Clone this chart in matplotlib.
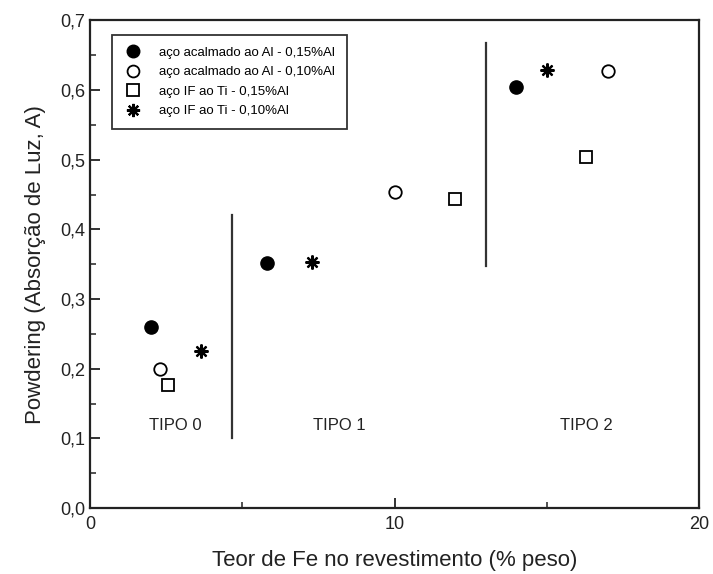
import matplotlib
matplotlib.use("Agg")
import matplotlib.pyplot as plt
from matplotlib.ticker import MultipleLocator, FuncFormatter

plt.rcParams['font.family'] = ['Liberation Sans', 'DejaVu Sans']

# Teor de Fe (% peso) and powdering for each steel type
fe_acalmado_15 = [2.0, 5.8, 14.0]
pw_acalmado_15 = [0.26, 0.352, 0.605]
fe_acalmado_10 = [2.3, 10.0, 17.0]
pw_acalmado_10 = [0.20, 0.454, 0.628]
fe_if_15 = [2.55, 12.0, 16.3]
pw_if_15 = [0.176, 0.444, 0.504]
fe_if_10 = [3.65, 7.3, 15.0]
pw_if_10 = [0.226, 0.353, 0.629]

labels = ["aço acalmado ao Al - 0,15%Al", "aço acalmado ao Al - 0,10%Al",
          "aço IF ao Ti - 0,15%Al", "aço IF ao Ti - 0,10%Al"]

# region separators (x, ymin, ymax) and region names
sep_x = [4.65, 13.0]
sep_ymin = [0.10, 0.348]
sep_ymax = [0.421, 0.667]
tipo_names = ["TIPO 0", "TIPO 1", "TIPO 2"]
tipo_x = [2.8, 8.2, 16.3]
tipo_y = [0.108, 0.108, 0.108]

fig = plt.figure(figsize=(7.13, 5.74), dpi=100)
ax = fig.add_axes([0.1262, 0.115, 0.8542, 0.8494])

ax.plot(fe_acalmado_15, pw_acalmado_15, 'o', color='black', markersize=9.5, linestyle='none', label=labels[0])
ax.plot(fe_acalmado_10, pw_acalmado_10, 'o', markerfacecolor='white', markeredgecolor='black',
        markeredgewidth=1.3, markersize=9, linestyle='none', label=labels[1])
ax.plot(fe_if_15, pw_if_15, 's', markerfacecolor='white', markeredgecolor='black',
        markeredgewidth=1.3, markersize=8.5, linestyle='none', label=labels[2])
ax.plot(fe_if_10, pw_if_10, marker=(8, 2, 0), color='black', markeredgewidth=1.6,
        markersize=10, linestyle='none', label=labels[3])

for x, y0, y1 in zip(sep_x, sep_ymin, sep_ymax):
    ax.plot([x, x], [y0, y1], color='#333333', linewidth=1.6)

for name, x, y in zip(tipo_names, tipo_x, tipo_y):
    ax.text(x, y, name, ha='center', va='bottom', fontsize=12, color='#222222')

ax.set_xlim(0, 20)
ax.set_ylim(0, 0.7)
ax.xaxis.set_major_locator(MultipleLocator(10))
ax.xaxis.set_minor_locator(MultipleLocator(5))
ax.yaxis.set_major_locator(MultipleLocator(0.1))
ax.yaxis.set_minor_locator(MultipleLocator(0.05))
ax.yaxis.set_major_formatter(FuncFormatter(lambda v, p: f"{v:.1f}".replace('.', ',')))
ax.tick_params(which='both', direction='in', top=False, right=False, labelsize=13, colors='#222222')
ax.tick_params(which='major', length=7, width=1.3)
ax.tick_params(which='minor', length=4, width=1.1)
ax.tick_params(axis='x', pad=6)
for s in ax.spines.values():
    s.set_linewidth(1.6)
    s.set_color('#222222')

ax.set_xlabel("Teor de Fe no revestimento (% peso)", fontsize=16, labelpad=12, color='#222222')
ax.set_ylabel("Powdering (Absorção de Luz, A)", fontsize=16, labelpad=10, color='#222222')

leg = ax.legend(loc='upper left', bbox_to_anchor=(0.036, 0.971), fontsize=9.5, frameon=True,
                fancybox=False, borderpad=0.9, labelspacing=0.55, handletextpad=1.3,
                handlelength=1.4, borderaxespad=0, markerscale=0.95)
leg.get_frame().set_edgecolor('black')
leg.get_frame().set_linewidth(1.3)

fig.savefig("out.png", dpi=100)
